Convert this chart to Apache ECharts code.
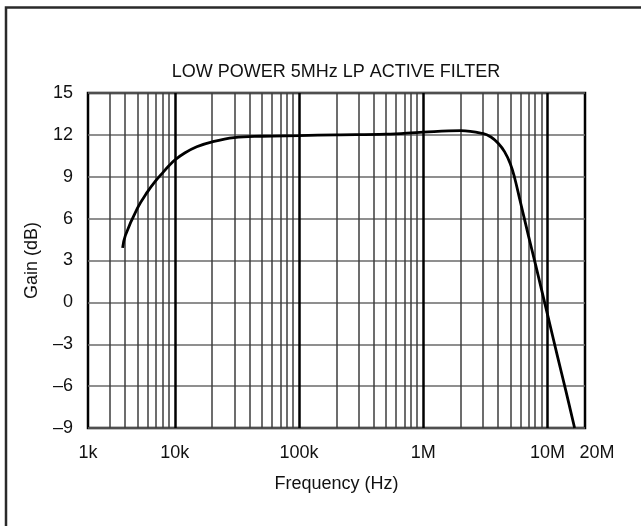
<!DOCTYPE html>
<html>
<head>
<meta charset="utf-8">
<style>
html,body{margin:0;padding:0;background:#fff;}
#chart{width:641px;height:526px;}
</style>
<script src="https://cdn.jsdelivr.net/npm/echarts@6/dist/echarts.min.js"></script>
</head>
<body>
<div id="chart"></div>
<script>
// ---- data ----
const freqHz = [3800, 4000, 5000, 6000, 7000, 8000, 9000, 10000, 12000, 15000, 20000, 30000, 50000,
  100000, 200000, 500000, 1000000, 2000000, 3000000, 3500000, 4000000, 4500000, 5000000, 5400000,
  6000000, 7000000, 8000000, 10000000, 12000000, 14000000, 16500000];
const gainDb = [3.9, 4.8, 6.75, 7.9, 8.7, 9.3, 9.8, 10.2, 10.7, 11.15, 11.5, 11.8, 11.9,
  11.95, 12.0, 12.05, 12.2, 12.3, 12.1, 11.85, 11.4, 10.8, 9.95, 9.0,
  7.3, 4.8, 2.7, -0.9, -3.85, -6.3, -9.0];

// axis
const xMinHz = 2000, xMaxHz = 20000000;
const xTickHz = [2000, 10000, 100000, 1000000, 10000000, 20000000];
const xTickLabels = ['1k', '10k', '100k', '1M', '10M', '20M'];
const majorGridHz = [10000, 100000, 1000000, 10000000];
const minorDecadesHz = [1000, 10000, 100000, 1000000];
const minorMantissas = [2, 3, 4, 5, 6, 7, 8, 9];

const lg = v => Math.log10(v);
const seriesData = freqHz.map((f, i) => [lg(f), gainDb[i]]);
const minorGrid = [];
minorDecadesHz.forEach(d => minorMantissas.forEach(m => {
  const f = d * m;
  if (f > xMinHz && f < xMaxHz) minorGrid.push({ xAxis: lg(f) });
}));
const majorGrid = majorGridHz.map(f => ({ xAxis: lg(f) }));

const FONT = 'Liberation Sans, Arial, sans-serif';
const chart = echarts.init(document.getElementById('chart'), null, { renderer: 'canvas' });
chart.setOption({
  animation: false,
  backgroundColor: '#fff',
  title: {
    text: 'LOW POWER 5MHz LP ACTIVE FILTER',
    left: 331, top: 58, textAlign: 'center',
    textStyle: { fontFamily: FONT, fontSize: 18, fontWeight: 'normal', color: '#111' }
  },
  graphic: [{
    type: 'rect', silent: true,
    shape: { x: 6, y: 7.5, width: 700, height: 600 },
    style: { fill: 'none', stroke: '#2a2a2a', lineWidth: 2.5 }
  }],
  grid: {
    left: 88, right: 56, top: 93, bottom: 98,
    show: true, borderColor: '#000', borderWidth: 2.5, backgroundColor: 'transparent'
  },
  xAxis: {
    type: 'value', min: lg(xMinHz), max: lg(xMaxHz),
    name: 'Frequency (Hz)', nameLocation: 'middle', nameGap: 47,
    nameTextStyle: { fontFamily: FONT, fontSize: 18, color: '#111' },
    axisLine: { show: false }, axisTick: { show: false }, splitLine: { show: false },
    axisLabel: {
      customValues: xTickHz.map(lg), margin: 16,
      fontFamily: FONT, fontSize: 18, color: '#111',
      rich: { r: { fontFamily: FONT, fontSize: 18, color: '#111', padding: [0, 0, 0, 24] } },
      formatter: v => {
        let best = 0;
        xTickHz.forEach((f, i) => { if (Math.abs(lg(f) - v) < Math.abs(lg(xTickHz[best]) - v)) best = i; });
        return best === xTickHz.length - 1 ? '{r|' + xTickLabels[best] + '}' : xTickLabels[best];
      }
    }
  },
  yAxis: {
    type: 'value', min: -9, max: 15, interval: 3,
    name: 'Gain (dB)', nameLocation: 'middle', nameGap: 47, nameRotate: 90,
    nameTextStyle: { fontFamily: FONT, fontSize: 18, color: '#111' },
    axisLine: { show: false }, axisTick: { show: false },
    splitLine: { show: true, lineStyle: { color: '#6a6a6a', width: 1.6 } },
    axisLabel: {
      margin: 15, fontFamily: FONT, fontSize: 18, color: '#111',
      formatter: v => (v < 0 ? '\u2013' + Math.abs(v) : String(v))
    }
  },
  series: [
    {
      type: 'line', data: [], silent: true,
      markLine: {
        silent: true, symbol: 'none', label: { show: false },
        lineStyle: { color: '#3c3c3c', width: 1.5, type: 'solid' },
        data: minorGrid
      }
    },
    {
      type: 'line', data: [], silent: true,
      markLine: {
        silent: true, symbol: 'none', label: { show: false },
        lineStyle: { color: '#000', width: 2.5, type: 'solid' },
        data: majorGrid
      }
    },
    {
      type: 'line', data: seriesData, smooth: 0.4, showSymbol: false, z: 5,
      lineStyle: { color: '#000', width: 2.8 }
    }
  ]
});
</script>
</body>
</html>
